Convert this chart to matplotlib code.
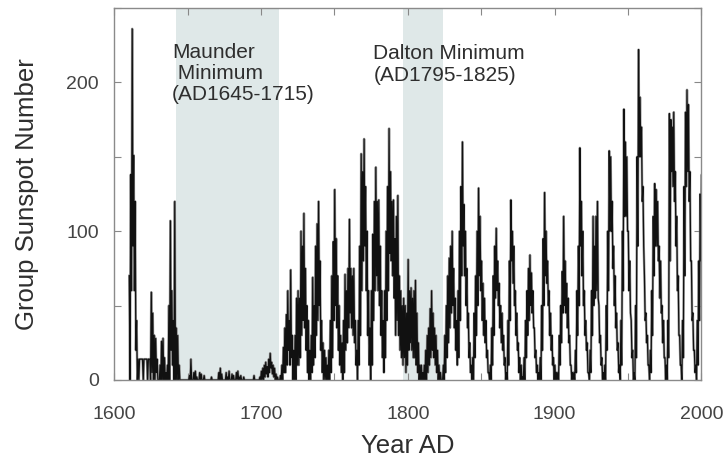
import numpy as np
import matplotlib
matplotlib.use('Agg')
import matplotlib.pyplot as plt
from matplotlib.ticker import MultipleLocator

plt.rcParams['font.family'] = ['Liberation Sans', 'DejaVu Sans']

# Group sunspot number: per year the highest and lowest
# monthly value (the line zig-zags between them, giving the dense band)
first_year = 1610
ssn_hi = [
    70, 138, 236, 151, 120, 40, 14, 14, 14, 14,          # 1610
    14, 14, 14, 14, 14, 59, 45, 30, 28, 14,              # 1620
    0, 10, 26, 28, 15, 5, 10, 50, 107, 60,               # 1630
    40, 120, 35, 30, 10, 0, 0, 0, 0, 0,                  # 1640
    0, 3, 14, 0, 5, 6, 2, 0, 5, 4,                       # 1650
    0, 3, 0, 0, 0, 0, 2, 0, 0, 0,                        # 1660
    0, 5, 8, 4, 0, 0, 5, 2, 6, 0,                        # 1670
    4, 3, 0, 5, 6, 2, 3, 0, 2, 0,                        # 1680
    0, 0, 0, 0, 0, 3, 0, 0, 0, 2,                        # 1690
    6, 8, 10, 12, 9, 14, 18, 12, 10, 8,                  # 1700
    4, 2, 0, 3, 10, 22, 35, 44, 60, 40,                  # 1710
    74, 30, 20, 30, 55, 60, 55, 100, 90, 112,            # 1720
    75, 50, 40, 20, 30, 69, 50, 90, 105, 120,            # 1730
    80, 40, 25, 20, 15, 10, 20, 40, 70, 93,              # 1740
    128, 95, 70, 50, 30, 25, 40, 71, 60, 75,             # 1750
    108, 75, 70, 75, 40, 20, 40, 90, 152, 140,           # 1760
    162, 130, 100, 60, 35, 60, 98, 120, 143, 120,        # 1770
    121, 90, 60, 40, 60, 100, 130, 169, 140, 120,        # 1780
    121, 95, 110, 124, 70, 60, 50, 55, 50, 45,           # 1790
    81, 60, 62, 55, 60, 67, 45, 25, 10, 10,              # 1800
    5, 10, 20, 30, 35, 48, 60, 45, 35, 30,               # 1810
    20, 10, 5, 0, 10, 30, 50, 70, 82, 90,                # 1820
    100, 75, 55, 40, 60, 100, 130, 160, 118, 100,        # 1830
    75, 45, 25, 10, 15, 45, 70, 100, 129, 110,           # 1840
    80, 65, 55, 40, 20, 5, 10, 35, 70, 90,               # 1850
    102, 80, 65, 50, 45, 30, 15, 5, 40, 80,              # 1860
    121, 100, 90, 60, 45, 25, 15, 10, 2, 15,             # 1870
    40, 60, 75, 84, 72, 60, 35, 20, 10, 5,               # 1880
    15, 50, 95, 126, 100, 80, 60, 45, 30, 15,            # 1890
    10, 5, 5, 30, 50, 73, 110, 80, 65, 55,               # 1900
    30, 10, 5, 5, 20, 60, 90, 156, 120, 100,             # 1910
    60, 40, 25, 5, 20, 60, 110, 90, 110, 120,            # 1920
    50, 30, 15, 5, 10, 50, 100, 154, 150, 120,           # 1930
    90, 70, 45, 25, 10, 40, 100, 182, 160, 150,          # 1940
    100, 80, 40, 20, 5, 50, 150, 222, 190, 170,          # 1950
    130, 70, 45, 30, 10, 20, 60, 110, 132, 128,          # 1960
    120, 90, 80, 50, 40, 15, 10, 40, 179, 175,           # 1970
    170, 180, 140, 110, 70, 30, 10, 40, 130, 180,        # 1980
    195, 185, 140, 80, 45, 20, 10, 40, 80, 125,          # 1990
    138,                                                 # 2000
]
ssn_lo = [
    0, 60, 90, 60, 20, 0, 0, 14, 14, 0,                  # 1610
    14, 14, 0, 14, 0, 5, 0, 0, 5, 0,                     # 1620
    0, 0, 0, 0, 0, 0, 0, 0, 20, 10,                      # 1630
    0, 0, 0, 0, 0, 0, 0, 0, 0, 0,                        # 1640
    0, 0, 0, 0, 0, 0, 0, 0, 0, 0,                        # 1650
    0, 0, 0, 0, 0, 0, 0, 0, 0, 0,                        # 1660
    0, 0, 0, 0, 0, 0, 0, 0, 0, 0,                        # 1670
    0, 0, 0, 0, 0, 0, 0, 0, 0, 0,                        # 1680
    0, 0, 0, 0, 0, 0, 0, 0, 0, 0,                        # 1690
    0, 0, 2, 4, 2, 5, 8, 4, 2, 0,                        # 1700
    0, 0, 0, 0, 0, 5, 5, 10, 20, 10,                     # 1710
    15, 0, 0, 0, 10, 10, 15, 30, 40, 35,                 # 1720
    20, 5, 0, 0, 5, 10, 15, 30, 40, 50,                  # 1730
    20, 5, 0, 0, 0, 0, 0, 5, 15, 40,                     # 1740
    50, 35, 20, 10, 5, 0, 5, 20, 25, 35,                 # 1750
    45, 35, 30, 25, 10, 0, 10, 30, 60, 80,               # 1760
    90, 60, 30, 10, 0, 10, 40, 60, 70, 60,               # 1770
    50, 30, 15, 5, 15, 40, 60, 85, 80, 70,               # 1780
    55, 30, 40, 30, 20, 15, 10, 15, 5, 10,               # 1790
    20, 25, 20, 15, 15, 10, 5, 0, 0, 0,                  # 1800
    0, 0, 0, 5, 10, 15, 20, 15, 10, 5,                   # 1810
    0, 0, 0, 0, 0, 5, 15, 25, 35, 45,                    # 1820
    50, 35, 20, 10, 15, 40, 70, 90, 70, 50,              # 1830
    35, 15, 5, 0, 0, 15, 30, 50, 70, 60,                 # 1840
    40, 30, 25, 15, 5, 0, 0, 10, 30, 55,                 # 1850
    60, 50, 35, 25, 20, 10, 0, 0, 10, 40,                # 1860
    80, 65, 50, 30, 20, 5, 0, 0, 0, 0,                   # 1870
    15, 30, 40, 50, 45, 35, 15, 5, 0, 0,                 # 1880
    0, 20, 50, 70, 65, 50, 30, 20, 10, 0,                # 1890
    0, 0, 0, 10, 25, 45, 50, 45, 35, 25,                 # 1900
    10, 0, 0, 0, 5, 30, 50, 90, 70, 50,                  # 1910
    30, 20, 5, 0, 5, 30, 50, 55, 60, 55,                 # 1920
    25, 10, 0, 0, 0, 20, 60, 100, 100, 75,               # 1930
    50, 35, 20, 5, 0, 10, 60, 110, 110, 100,             # 1940
    60, 45, 15, 0, 0, 15, 90, 150, 150, 120,             # 1950
    90, 40, 25, 10, 0, 5, 30, 70, 90, 90,                # 1960
    80, 55, 45, 25, 15, 0, 0, 15, 80, 140,               # 1970
    130, 120, 90, 60, 30, 10, 0, 15, 70, 130,            # 1980
    140, 120, 80, 40, 20, 5, 0, 10, 40, 80,              # 1990
    100,                                                 # 2000
]

# shaded grand minima as drawn (slightly offset from the quoted dates)
maunder = (1642, 1712)
dalton = (1797, 1824)

years = np.arange(first_year, first_year + len(ssn_hi))
t = np.column_stack([years + 0.25, years + 0.75]).ravel()
ssn = np.column_stack([ssn_hi, ssn_lo]).ravel()

fig = plt.figure(figsize=(7.23, 4.70), dpi=100)
ax = fig.add_axes([0.158, 0.1915, 0.812, 0.7915])

shade = '#dfe8e8'
ax.axvspan(*maunder, color=shade, lw=0, zorder=0)
ax.axvspan(*dalton, color=shade, lw=0, zorder=0)

ax.plot(t, ssn, color='#a0a0a0', lw=1.8, zorder=1)
ax.plot(t, ssn, color='#111111', lw=0.9, zorder=2)

ax.set_xlim(1600, 2000)
ax.set_ylim(0, 250)

txt = '#2e2e2e'
ax.text(1639.5, 226.5, 'Maunder\n Minimum\n(AD1645-1715)', fontsize=15,
        color=txt, va='top', ha='left', linespacing=1.15)
ax.text(1776.5, 225.5, 'Dalton Minimum\n(AD1795-1825)', fontsize=15,
        color=txt, va='top', ha='left', linespacing=1.15)

ax.xaxis.set_major_locator(MultipleLocator(100))
ax.xaxis.set_minor_locator(MultipleLocator(50))
ax.yaxis.set_major_locator(MultipleLocator(100))
ax.yaxis.set_minor_locator(MultipleLocator(50))
ax.tick_params(which='both', direction='in', top=True, right=True,
               color='#888888', length=5, width=0.8)
ax.tick_params(axis='x', labelsize=14, labelcolor='#444444', pad=19)
ax.tick_params(axis='y', labelsize=14, labelcolor='#444444', pad=11)

for s in ax.spines.values():
    s.set_color('#8a8a8a')
    s.set_linewidth(1.0)

ax.set_xlabel('Year AD', fontsize=18.5, color=txt, labelpad=8)
ax.set_ylabel('Group Sunspot Number', fontsize=18.5, color=txt, labelpad=20)

fig.savefig('out.png', dpi=100)
